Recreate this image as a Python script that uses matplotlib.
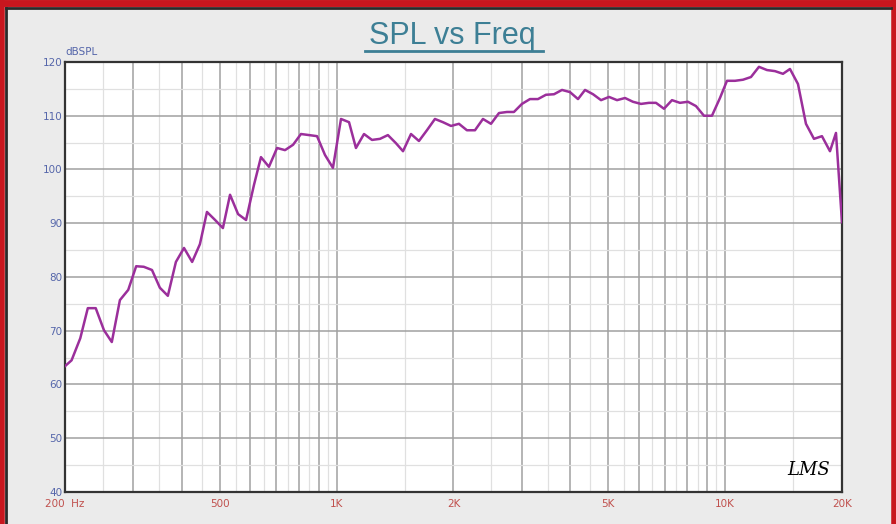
import matplotlib
matplotlib.use("Agg")
import matplotlib.pyplot as plt
from matplotlib.lines import Line2D
from matplotlib.ticker import FixedLocator, NullFormatter

freq_hz = [200, 208, 219, 229, 240, 252, 264, 277, 291, 305, 319, 335, 351, 368,
           386, 405, 425, 445, 464, 487, 510, 532, 558, 585, 613, 639, 670, 703,
           737, 773, 810, 850, 891, 934, 979, 1027, 1077, 1122, 1177, 1234, 1294,
           1356, 1422, 1483, 1555, 1630, 1709, 1792, 1879, 1971, 2066, 2166, 2272,
           2382, 2498, 2619, 2746, 2862, 3001, 3147, 3300, 3460, 3629, 3805, 3990,
           4184, 4362, 4574, 4796, 5029, 5273, 5529, 5794, 6077, 6372, 6642, 6965,
           7303, 7656, 8028, 8418, 8827, 9255, 9705, 10116, 10608, 11124, 11662,
           12228, 12824, 13446, 14098, 14696, 15410, 16156, 16942, 17762, 18628,
           19302, 20000]
spl_db = [63.4, 64.5, 68.6, 74.2, 74.2, 70.1, 67.9, 75.7, 77.6, 82.0, 81.9, 81.3,
          78.0, 76.5, 82.8, 85.4, 82.8, 86.1, 92.1, 90.6, 89.1, 95.3, 91.7, 90.6,
          97.1, 102.3, 100.5, 104.0, 103.6, 104.6, 106.6, 106.4, 106.2, 102.7,
          100.3, 109.4, 108.8, 104.0, 106.6, 105.5, 105.7, 106.4, 104.9, 103.4,
          106.6, 105.3, 107.3, 109.4, 108.8, 108.1, 108.5, 107.3, 107.3, 109.4,
          108.5, 110.5, 110.7, 110.7, 112.2, 113.1, 113.1, 113.9, 114.0, 114.8,
          114.4, 113.1, 114.8, 114.0, 112.9, 113.5, 112.9, 113.3, 112.6, 112.2,
          112.4, 112.4, 111.3, 112.9, 112.4, 112.6, 111.8, 110.0, 110.0, 113.3,
          116.5, 116.5, 116.7, 117.2, 119.1, 118.5, 118.3, 117.8, 118.7, 115.9,
          108.5, 105.7, 106.2, 103.4, 106.8, 90.2]

x_ticks = [200, 500, 1000, 2000, 5000, 10000, 20000]
x_labels = ["200  Hz", "500", "1K", "2K", "5K", "10K", "20K"]
x_major_grid = [300, 400, 500, 600, 700, 800, 900, 1000, 2000, 3000, 4000, 5000,
                6000, 7000, 8000, 9000, 10000]
x_minor_grid = [250, 350, 450, 550, 650, 750, 850, 950, 1500, 2500, 3500, 4500,
                5500, 6500, 7500, 8500, 9500, 15000]
y_ticks = [40, 50, 60, 70, 80, 90, 100, 110, 120]

fig = plt.figure(figsize=(8.96, 5.24), dpi=100)
fig.patch.set_facecolor("#ebebeb")

# red frame (top, left, right) with dark inner edge
red = "#c8161e"
fig.add_artist(Line2D([0, 1], [0.994, 0.994], transform=fig.transFigure, color=red, linewidth=5))
fig.add_artist(Line2D([0.0025, 0.0025], [0, 1], transform=fig.transFigure, color=red, linewidth=4))
fig.add_artist(Line2D([0.9975, 0.9975], [0, 1], transform=fig.transFigure, color=red, linewidth=4))
fig.add_artist(Line2D([0.0065, 0.0065], [0, 0.984], transform=fig.transFigure,
                      color="#2a2a2a", linewidth=2))
fig.add_artist(Line2D([0.0065, 0.994], [0.984, 0.984], transform=fig.transFigure,
                      color="#2a2a2a", linewidth=2))

ax = fig.add_axes([0.0725, 0.0611, 0.8672, 0.8206])
ax.set_facecolor("white")
ax.set_xscale("log")
ax.set_xlim(200, 20000)
ax.set_ylim(40, 120)

for f in x_minor_grid:
    ax.axvline(f, color="#e0e0e0", linewidth=0.9, zorder=1)
for f in x_major_grid:
    ax.axvline(f, color="#a0a0a0", linewidth=1.1, zorder=1)
for v in range(45, 120, 10):
    ax.axhline(v, color="#e0e0e0", linewidth=0.9, zorder=1)
for v in y_ticks[1:-1]:
    ax.axhline(v, color="#a0a0a0", linewidth=1.1, zorder=1)

ax.plot(freq_hz, spl_db, color="#9b2f9b", linewidth=1.8, zorder=3)

ax.xaxis.set_major_locator(FixedLocator(x_ticks))
ax.xaxis.set_minor_formatter(NullFormatter())
ax.set_xticklabels(x_labels)
ax.set_yticks(y_ticks)
ax.tick_params(axis="both", which="both", length=0)
ax.tick_params(axis="x", colors="#c0504d", labelsize=7.5, pad=5)
ax.tick_params(axis="y", colors="#5566aa", labelsize=7.5, pad=2)
for s in ax.spines.values():
    s.set_color("#333333")
    s.set_linewidth(1.6)

ax.text(0.0, 1.012, "dBSPL", transform=ax.transAxes, color="#5566aa",
        fontsize=7.5, ha="left", va="bottom")
ax.text(0.985, 0.03, "LMS", transform=ax.transAxes, color="black",
        fontsize=13, style="italic", ha="right", va="bottom",
        family="DejaVu Serif")

fig.text(0.505, 0.932, "SPL vs Freq", color="#3d7f95", fontsize=22,
         family="Liberation Sans", ha="center", va="center")
fig.add_artist(Line2D([0.407, 0.606], [0.903, 0.903], transform=fig.transFigure,
                      color="#3d7f95", linewidth=2))

fig.savefig("out.png", dpi=100, facecolor=fig.get_facecolor())
